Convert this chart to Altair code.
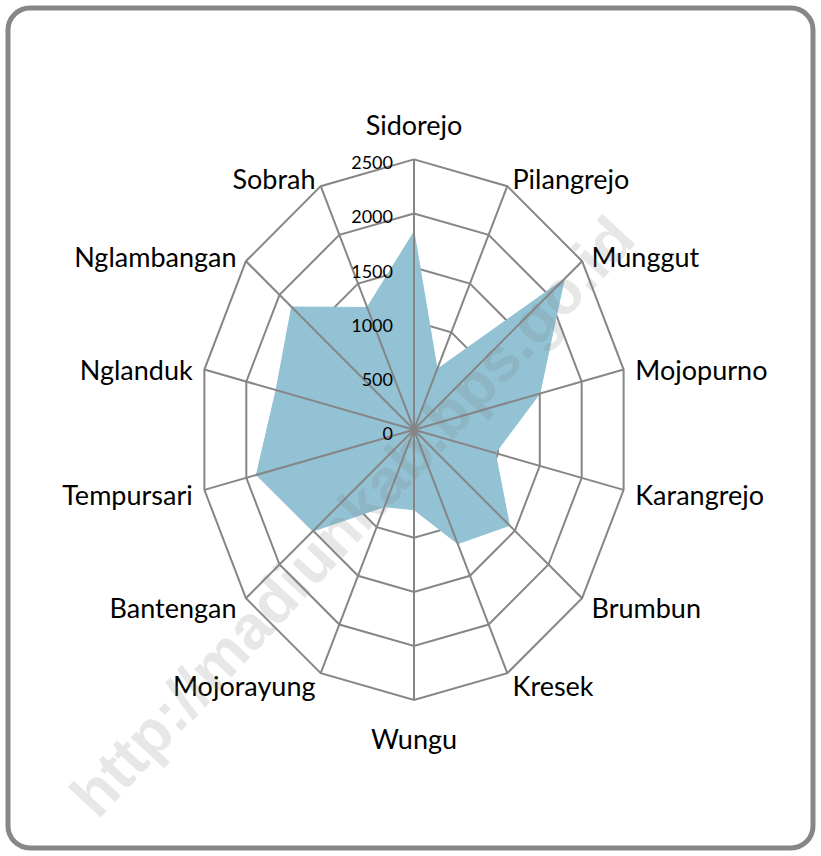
import altair as alt
import pandas as pd

# ---- data ----
categories = ["Sidorejo", "Pilangrejo", "Munggut", "Mojopurno", "Karangrejo",
              "Brumbun", "Kresek", "Wungu", "Mojorayung", "Bantengan",
              "Tempursari", "Nglanduk", "Nglambangan", "Sobrah"]
values = [1830, 620, 2235, 1500, 970, 1420, 1170, 740, 790, 1505, 1880, 1645, 1820, 1255]
tick_values = [0, 500, 1000, 1500, 2000, 2500]
tick_labels = ["0", "500", "1000", "1500", "2000", "2500"]
watermark_text = ["http://madiunkab.bps.go.id"]

# ---- layout / style ----
N = len(categories)
RMAX = 2500
W, H, PAD = 805, 840, 8
CX, CY = 406.0, 421.7          # centre of the radar inside the view (px)
KX = 215.0 / RMAX               # px per unit, horizontal
KY = 270.3 / RMAX               # px per unit, vertical
xdom = [-CX / KX, (W - CX) / KX]
ydom = [-(H - CY) / KY, CY / KY]
GRID = "#868686"
FILL = "#92C2D4"
FONT = "Lato"

xs = alt.Scale(domain=xdom, nice=False, zero=False)
ys = alt.Scale(domain=ydom, nice=False, zero=False)
ANG = f"datum.idx*2*PI/{N}"

series = pd.DataFrame({"idx": list(range(N)) + [N],
                       "category": categories + [categories[0]],
                       "value": values + [values[0]]})
rings = pd.DataFrame([{"level": t, "idx": i} for t in tick_values[1:] for i in range(N + 1)])
spokes = pd.DataFrame({"idx": list(range(N)), "category": categories})
ticks = pd.DataFrame({"value": tick_values, "label": tick_labels})
wm = pd.DataFrame({"t": watermark_text})

ring_layer = alt.Chart(rings).transform_calculate(
    a=ANG, x=f"datum.level*sin({ANG})", y=f"datum.level*cos({ANG})"
).mark_line(color=GRID, strokeWidth=2).encode(
    x=alt.X("x:Q", scale=xs, axis=None),
    y=alt.Y("y:Q", scale=ys, axis=None),
    detail="level:O",
    order="idx:Q",
)

fill_layer = alt.Chart(series).transform_calculate(
    x=f"datum.value*sin({ANG})", y=f"datum.value*cos({ANG})"
).mark_line(fill=FILL, color=FILL, strokeWidth=1).encode(
    x=alt.X("x:Q", scale=xs, axis=None),
    y=alt.Y("y:Q", scale=ys, axis=None),
    order="idx:Q",
)

spoke_layer = alt.Chart(spokes).transform_calculate(
    x0="0", y0="0",
    x=f"{RMAX}*sin({ANG})", y=f"{RMAX}*cos({ANG})"
).mark_rule(color=GRID, strokeWidth=2).encode(
    x=alt.X("x0:Q", scale=xs, axis=None),
    y=alt.Y("y0:Q", scale=ys, axis=None),
    x2="x:Q",
    y2="y:Q",
)

tick_layer = alt.Chart(ticks).transform_calculate(
    x0="0"
).mark_text(align="right", baseline="alphabetic", dx=-21, dy=10,
            fontSize=18, font=FONT, color="#000000").encode(
    x=alt.X("x0:Q", scale=xs, axis=None),
    y=alt.Y("value:Q", scale=ys, axis=None),
    text="label:N",
)

label_base = alt.Chart(spokes).transform_calculate(
    s=f"sin({ANG})", c=f"cos({ANG})"
).transform_calculate(
    off=f"abs(datum.s) < 0.01 ? (12.5 - 36.5*datum.c) : (13 - 11*datum.c)",
    lx=f"{RMAX}*datum.s + 12*datum.s/{KX}",
).transform_calculate(
    ly=f"{RMAX}*datum.c - datum.off/{KY}"
)


def label_layer(cond, align):
    return label_base.transform_filter(cond).mark_text(
        align=align, baseline="alphabetic", fontSize=27, font=FONT, color="#000000"
    ).encode(
        x=alt.X("lx:Q", scale=xs, axis=None),
        y=alt.Y("ly:Q", scale=ys, axis=None),
        text="category:N",
    )


labels_right = label_layer("datum.s > 0.01", "left")
labels_left = label_layer("datum.s < -0.01", "right")
labels_mid = label_layer("abs(datum.s) <= 0.01", "center")

wm_layer = alt.Chart(wm).mark_text(
    angle=313, fontSize=62, fontWeight="bold", font="Liberation Sans",
    color="#808080", opacity=0.18, align="center", baseline="middle"
).encode(x=alt.value(346), y=alt.value(510), text="t:N")

chart = alt.layer(
    ring_layer, fill_layer, spoke_layer, tick_layer,
    labels_right, labels_left, labels_mid, wm_layer
).properties(
    width=W, height=H, padding=PAD,
    autosize=alt.AutoSizeParams(type="none"),
    background="#ffffff",
).configure_view(
    stroke="#878787", strokeWidth=5, cornerRadius=22
)

chart.save("out.html", embed_options={"renderer": "svg", "actions": False})
